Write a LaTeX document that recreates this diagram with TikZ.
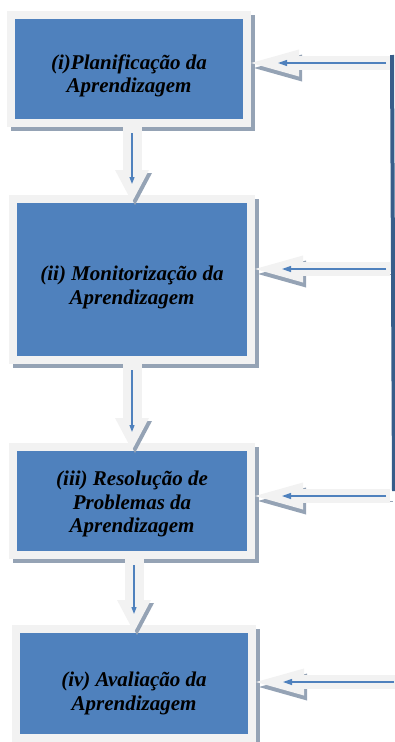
\documentclass[tikz,border=0pt]{standalone}
\usepackage{fontspec}
\setmainfont{Liberation Serif}
\usetikzlibrary{arrows.meta,positioning}
\definecolor{stageblue}{HTML}{4F81BD}
\definecolor{framegray}{HTML}{F2F2F2}
\definecolor{shadegray}{HTML}{95A3B5}
\definecolor{barblue}{HTML}{385D8A}
\tikzset{
    every node/.style={
        font=\fontsize{21}{23.5}\selectfont\bfseries\itshape
    },
    stagebox/.style={
        shape=rectangle,
        fill=stageblue,
        draw=framegray,
        line width=8pt,
        inner sep=0pt,
        outer sep=4pt,
        preaction={fill=shadegray, draw=shadegray, transform canvas={shift={(4pt,-4pt)}}}
    },
    stagetext/.style={
        align=center,
        inner sep=0pt
    }
}

\begin{document}
\begin{tikzpicture}[
		x=1pt, y=-1pt,
		varrow/.style={framegray, line width=19pt, -{Triangle[length=32pt, width=34pt, line width=0pt]}, shorten >=-7pt,
			preaction={draw=shadegray, transform canvas={shift={(3pt,-3pt)}}},
			postaction={draw=stageblue, line width=1.2pt, -{Triangle[length=7pt, width=5pt]}, shorten <=6pt, shorten >=11pt}},
		harrow/.style={framegray, line width=14pt, -{Triangle[length=48pt, width=27pt, line width=0pt]},
			preaction={draw=shadegray, transform canvas={shift={(3pt,-5pt)}}},
			postaction={draw=stageblue, line width=1.2pt, -{Triangle[length=9pt, width=6pt]}, shorten <=4pt, shorten >=27pt}},
		feedback/.style={draw=barblue, line width=4pt}
		]
		\useasboundingbox (0,0) rectangle (395,742);
		
		\node (plan) at (129, 69) [stagebox, minimum width=236pt, minimum height=108pt,
			label={[stagetext, yshift=-7pt]center:{(i)Planificação da\\Aprendizagem}}] {};
		\node (moni) at (132, 279.5) [stagebox, minimum width=238pt, minimum height=161pt,
			label={[stagetext, yshift=-8pt]center:{(ii) Monitorização da\\Aprendizagem}}] {};
		\node (reso) at (132, 501) [stagebox, minimum width=238pt, minimum height=108pt,
			label={[stagetext, yshift=-3pt]center:{(iii) Resolução de\\Problemas da\\Aprendizagem}}] {};
		\node (aval) at (134, 683.5) [stagebox, minimum width=236pt, minimum height=109pt,
			label={[stagetext, yshift=-10pt]center:{(iv) Avaliação da\\Aprendizagem}}] {};
		
		\coordinate (in1) at (390, 63);
		\coordinate (in2) at (390, 269);
		\coordinate (in3) at (390, 496);
		\coordinate (in4) at (398, 682);
		\coordinate (bartop) at (392, 55);
		\coordinate (barbot) at (394, 491);
		
		\draw [varrow] (plan.south -| moni.north) -- (moni.north);
		\draw [varrow] (moni) -- (reso);
		\draw [varrow] (reso.south -| aval.north) -- (aval.north);
		
		\draw [harrow] (in1) -- (in1 -| plan.east);
		\draw [harrow] (in2) -- (in2 -| moni.east);
		\draw [harrow] (in3) -- (in3 -| reso.east);
		\draw [harrow] (in4) -- (in4 -| aval.east);
		
		\draw [feedback] (bartop) -- (barbot);
	\end{tikzpicture}
\end{document}
